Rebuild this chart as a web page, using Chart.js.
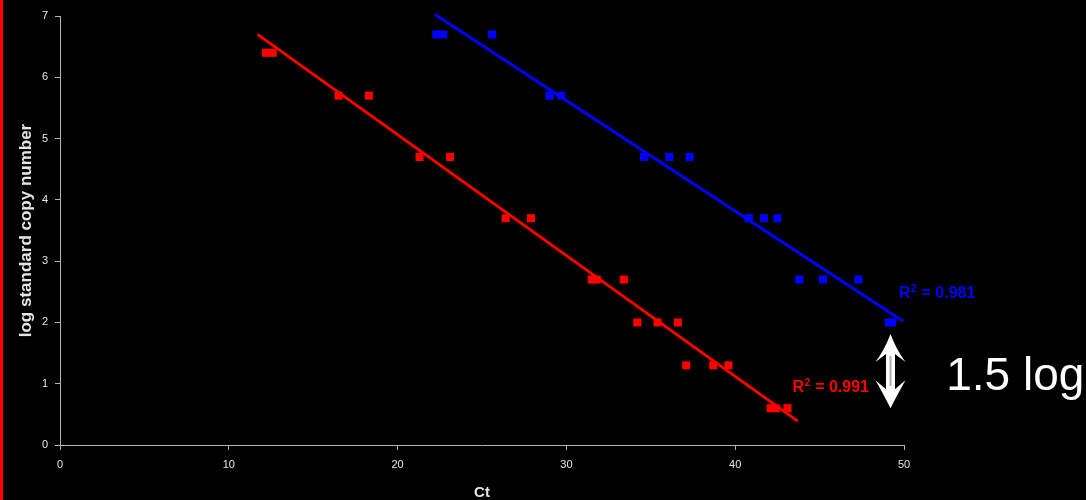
<!DOCTYPE html>
<html>
<head>
<meta charset="utf-8">
<script src="https://cdn.jsdelivr.net/npm/chart.js@4/dist/chart.umd.min.js"></script>
<style>
  body { margin: 0; background: #000; }
  #wrap { position: relative; width: 1086px; height: 500px; background: #000; }
  #bar { position: absolute; left: 0; top: 0; width: 3px; height: 500px; background: #ff0000; }
  #chart { position: absolute; left: 0; top: 0; }
</style>
</head>
<body>
<div id="wrap">
  <canvas id="chart" width="1086" height="500"></canvas>
  <div id="bar"></div>
</div>
<script>
// red standard curve (Ct vs log copy number)
const redCt = [12.2, 12.6, 16.5, 18.3, 21.3, 23.1, 26.4, 27.9, 31.5, 31.8, 33.4,
  34.2, 35.4, 36.6, 37.1, 38.7, 39.6, 42.1, 42.4, 43.1];
const redLog = [6.4, 6.4, 5.7, 5.7, 4.7, 4.7, 3.7, 3.7, 2.7, 2.7, 2.7,
  2.0, 2.0, 2.0, 1.3, 1.3, 1.3, 0.6, 0.6, 0.6];

// blue standard curve
const blueCt = [22.3, 22.7, 25.6, 29.0, 29.7, 34.6, 36.1, 37.3, 40.8, 41.7, 42.5,
  43.8, 45.2, 47.3, 49.1, 49.3];
const blueLog = [6.7, 6.7, 6.7, 5.7, 5.7, 4.7, 4.7, 4.7, 3.7, 3.7, 3.7,
  2.7, 2.7, 2.7, 2.0, 2.0];

// trend line ends
const redFitCt = [11.7, 43.7];
const redFitLog = [6.70, 0.39];
const blueFitCt = [22.2, 49.95];
const blueFitLog = [7.03, 2.02];

const r2Texts = ["0.991", "0.981"];
const xTicks = [0, 10, 20, 30, 40, 50];
const yTicks = [0, 1, 2, 3, 4, 5, 6, 7];

function pairs(xs, ys) {
  return xs.map((x, i) => ({ x: x, y: ys[i] }));
}

const RED = "#ff0000";
const BLUE = "#0000ff";

// where the notes sit, in axis units
const notes = {
  redR2: { ct: 43.4, log: 0.86, color: RED, text: r2Texts[0] },
  blueR2: { ct: 49.7, log: 2.40, color: BLUE, text: r2Texts[1] },
  arrow: { ct: 49.2, top: 1.81, bottom: 0.60 },
  gap: { ct: 52.5, log: 0.90, text: "1.5 log" },
};

function drawR2(ctx, x, y, note) {
  ctx.fillStyle = note.color;
  ctx.textBaseline = "alphabetic";
  ctx.textAlign = "left";
  ctx.font = "bold 16px Arial, 'Liberation Sans', sans-serif";
  ctx.fillText("R", x, y);
  let w = ctx.measureText("R").width;
  ctx.font = "bold 10px Arial, 'Liberation Sans', sans-serif";
  ctx.fillText("2", x + w + 0.5, y - 6);
  w += ctx.measureText("2").width + 1;
  ctx.font = "bold 16px Arial, 'Liberation Sans', sans-serif";
  ctx.fillText(" = " + note.text, x + w, y);
}

function drawArrow(ctx, x, yTop, yBot) {
  ctx.fillStyle = "#ffffff";
  ctx.beginPath();
  ctx.moveTo(x, yTop);
  ctx.quadraticCurveTo(x + 6, yTop + 16, x + 15, yTop + 28);
  ctx.lineTo(x + 4.5, yTop + 20);
  ctx.lineTo(x + 4.5, yBot - 19);
  ctx.lineTo(x + 15, yBot - 28);
  ctx.quadraticCurveTo(x + 6, yBot - 12, x, yBot);
  ctx.quadraticCurveTo(x - 6, yBot - 12, x - 15, yBot - 28);
  ctx.lineTo(x - 4.5, yBot - 19);
  ctx.lineTo(x - 4.5, yTop + 20);
  ctx.lineTo(x - 15, yTop + 28);
  ctx.quadraticCurveTo(x - 6, yTop + 16, x, yTop);
  ctx.closePath();
  ctx.fill();
  ctx.fillStyle = "#b0b0b0";
  ctx.fillRect(x - 1, yTop + 22, 2, yBot - yTop - 44);
}

const notesPlugin = {
  id: "notes",
  afterDraw(chart) {
    const ctx = chart.ctx;
    const sx = chart.scales.x;
    const sy = chart.scales.y;
    ctx.save();
    drawR2(ctx, sx.getPixelForValue(notes.redR2.ct), sy.getPixelForValue(notes.redR2.log), notes.redR2);
    drawR2(ctx, sx.getPixelForValue(notes.blueR2.ct), sy.getPixelForValue(notes.blueR2.log), notes.blueR2);
    drawArrow(ctx, sx.getPixelForValue(notes.arrow.ct),
      sy.getPixelForValue(notes.arrow.top), sy.getPixelForValue(notes.arrow.bottom));
    ctx.fillStyle = "#ffffff";
    ctx.font = "46px Arial, 'Liberation Sans', sans-serif";
    ctx.textAlign = "left";
    ctx.textBaseline = "alphabetic";
    ctx.fillText(notes.gap.text, sx.getPixelForValue(notes.gap.ct), sy.getPixelForValue(notes.gap.log));
    ctx.restore();
  },
};

const pointStyle = {
  showLine: false,
  pointStyle: "rect",
  pointRadius: 5.7,
  pointBorderWidth: 0,
  pointHoverRadius: 5.7,
};

const lineStyle = {
  showLine: true,
  pointRadius: 0,
  borderWidth: 3,
  clip: false,
};

const axisColor = "#b4b4b4";
const labelColor = "#e6e6e6";
const tickFont = { family: "Arial, 'Liberation Sans', sans-serif", size: 11 };
const titleFont = { family: "Arial, 'Liberation Sans', sans-serif", size: 15, weight: "bold" };
const yTitleFont = { family: "Arial, 'Liberation Sans', sans-serif", size: 17, weight: "bold" };

new Chart(document.getElementById("chart"), {
  type: "scatter",
  data: {
    datasets: [
      { label: "red fit", data: pairs(redFitCt, redFitLog), borderColor: RED, ...lineStyle },
      { label: "blue fit", data: pairs(blueFitCt, blueFitLog), borderColor: BLUE, ...lineStyle },
      { label: "red", data: pairs(redCt, redLog), backgroundColor: RED, borderColor: RED, ...pointStyle },
      { label: "blue", data: pairs(blueCt, blueLog), backgroundColor: BLUE, borderColor: BLUE, ...pointStyle },
    ],
  },
  options: {
    responsive: false,
    animation: false,
    layout: { padding: { top: 16, right: 182, left: 0, bottom: 0 } },
    plugins: { legend: { display: false }, tooltip: { enabled: false } },
    scales: {
      x: {
        type: "linear",
        min: xTicks[0],
        max: xTicks[xTicks.length - 1],
        afterBuildTicks: (s) => { s.ticks = xTicks.map((v) => ({ value: v })); },
        afterFit: (s) => { s.height = 55; },
        border: { display: true, color: axisColor, width: 1 },
        grid: { drawOnChartArea: false, drawTicks: true, tickLength: 5, color: axisColor },
        ticks: { color: labelColor, font: tickFont, padding: 8, maxRotation: 0 },
        title: { display: true, text: "Ct", color: labelColor, font: titleFont, padding: { top: 0, bottom: -2 } },
      },
      y: {
        type: "linear",
        min: yTicks[0],
        max: yTicks[yTicks.length - 1],
        afterBuildTicks: (s) => { s.ticks = yTicks.map((v) => ({ value: v })); },
        afterFit: (s) => { s.width = 60; },
        border: { display: true, color: axisColor, width: 1 },
        grid: { drawOnChartArea: false, drawTicks: true, tickLength: 5, color: axisColor },
        ticks: { color: labelColor, font: tickFont, padding: 7 },
        title: { display: true, text: "log standard copy number", color: labelColor, font: yTitleFont, padding: { top: 16.5, bottom: 0 } },
      },
    },
  },
  plugins: [notesPlugin],
});
</script>
</body>
</html>
